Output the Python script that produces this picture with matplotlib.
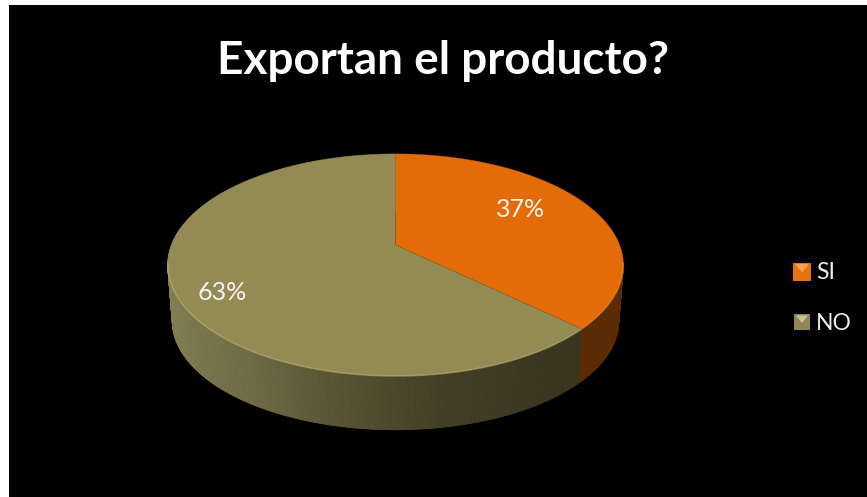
import numpy as np
import matplotlib
matplotlib.use("Agg")
import matplotlib.pyplot as plt
from matplotlib.collections import PolyCollection
from matplotlib.colors import LinearSegmentedColormap
from matplotlib.patches import Polygon, Rectangle

title = "Exportan el producto?"
labels = ["SI", "NO"]
values = [37, 63]
top_colors = ["#E36C09", "#948A54"]
edge_colors = ["#F08A2E", "#BDB478"]

# side wall shading, left to right across the pie
side_x = [0.0, 0.18, 0.35, 0.6, 0.88, 1.0]
side_olive = ["#827D52", "#706C47", "#5C5736", "#443F27", "#3A3620", "#3A3620"]
side_orange = ["#8A4006", "#8A4006", "#7A3906", "#6A3105", "#5C2C05", "#5A2B05"]

plt.rcParams['font.family'] = ['Lato', 'DejaVu Sans']

# perspective of the pie disc, in pixels
cx, cy = 395.5, 245
ax_u, ax_v, tilt = 224.0, 107.4, 0.18
depth = 56


def disc(angle):
    u = np.cos(angle)
    v = np.sin(angle)
    w = 1 + tilt * v
    return cx + ax_u * u / w, cy - ax_v * v / w


def lower(x, y):
    return cx + (x - cx) * 0.98, 265 + (y - 265) * 0.98 + depth


fig = plt.figure(figsize=(8.67, 4.97), dpi=100, facecolor="white")
ax = fig.add_axes([0, 0, 1, 1])
ax.set_xlim(0, 867)
ax.set_ylim(497, 0)
ax.axis("off")

ax.add_patch(Rectangle((9, 5), 858, 492, facecolor="black", edgecolor="none"))

# slice angles, clockwise from twelve o'clock
shares = np.array(values) / sum(values)
stops = np.pi / 2 - 2 * np.pi * np.concatenate([[0], np.cumsum(shares)])

cmaps = [LinearSegmentedColormap.from_list("side_si", list(zip(side_x, side_orange))),
         LinearSegmentedColormap.from_list("side_no", list(zip(side_x, side_olive)))]

# side walls first, the top face covers whatever sits behind it
for i in range(2):
    t = np.linspace(stops[i], stops[i + 1], 400)
    x, y = disc(t)
    xb, yb = lower(x, y)
    quads = []
    cols = []
    for j in range(len(t) - 1):
        quads.append([(x[j], y[j]), (x[j + 1], y[j + 1]), (xb[j + 1], yb[j + 1]), (xb[j], yb[j])])
        cols.append(cmaps[i]((x[j] - 168) / 455))
    order = np.argsort(y[:-1])
    quads = [quads[k] for k in order]
    cols = [cols[k] for k in order]
    ax.add_collection(PolyCollection(quads, facecolors=cols, edgecolors=cols, linewidths=0.6))

# top face, with a bevel highlight on the front rim only
for i in range(2):
    t = np.linspace(stops[i], stops[i + 1], 300)
    x, y = disc(t)
    ax.add_patch(Polygon(np.r_[[[cx, cy]], np.c_[x, y]], closed=True,
                         facecolor=top_colors[i], edgecolor="none"))
    front = y > 262
    ax.plot(x[front], y[front], color=edge_colors[i], lw=1.1, alpha=0.6, solid_capstyle="butt")

ax.text(443, 61.5, title, color="white", fontsize=33, fontweight="bold", ha="center", va="center")

# percentage labels
ax.text(521, 209.5, f"{values[0]}%", color="#F5F5F0", fontsize=18, ha="center", va="center")
ax.text(222, 292.5, f"{values[1]}%", color="#F5F5F0", fontsize=18, ha="center", va="center")

# legend keys with a small bevel
key_y = [271.5, 322]
key_size = [18, 16]
key_fill = ["#E8720F", "#8F8758"]
key_tip = ["#F9A050", "#C9C296"]
for i in range(2):
    half = key_size[i] / 2
    kx = 802
    ax.add_patch(Rectangle((kx - half, key_y[i] - half), 2 * half, 2 * half,
                           facecolor=key_fill[i], edgecolor="none"))
    ax.add_patch(Polygon([(kx - half + 2, key_y[i] - half + 1.5), (kx + half - 2, key_y[i] - half + 1.5),
                          (kx, key_y[i] + 1)],
                         closed=True, facecolor=key_tip[i], edgecolor="none"))
    ax.text(816, key_y[i] + 1, labels[i], color="#EDEDED", fontsize=16.5, ha="left", va="center")

fig.savefig("out.png", dpi=100)
